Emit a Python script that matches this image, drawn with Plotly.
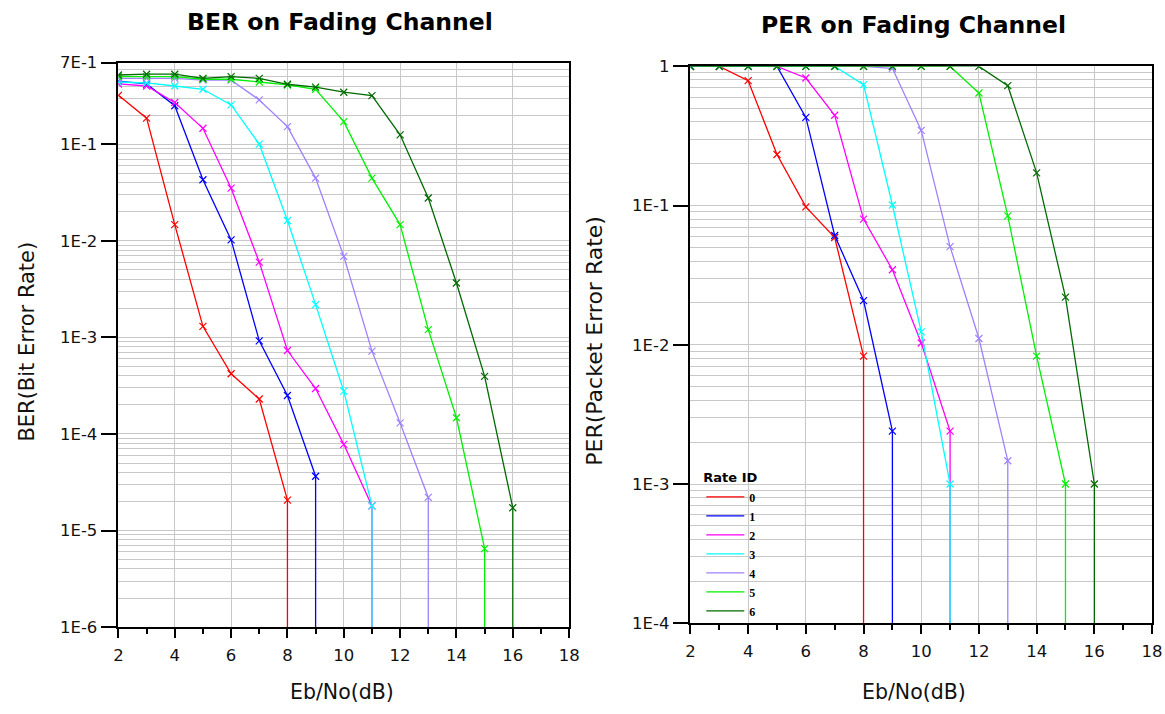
import plotly.graph_objects as go

# Eb/No sweep (dB) and per-rate error curves
rate_ids = ["0", "1", "2", "3", "4", "5", "6"]
colors = ["#ff0000", "#0000ff", "#ff00ff", "#00ffff", "#a080ff", "#00f000", "#006a00"]

ebno = list(range(2, 17))

ber_values = [
    [0.32, 0.186, 0.0147, 1.3e-3, 4.2e-4, 2.3e-4, 2.06e-5],
    [0.45, 0.42, 0.25, 0.0428, 0.0102, 9.2e-4, 2.5e-4, 3.65e-5],
    [0.42, 0.40, 0.27, 0.146, 0.035, 6.0e-3, 7.3e-4, 2.95e-4, 7.8e-5, 1.8e-5],
    [0.44, 0.43, 0.40, 0.37, 0.255, 0.10, 0.0162, 2.18e-3, 2.77e-4, 1.8e-5],
    [0.48, 0.48, 0.48, 0.46, 0.46, 0.287, 0.152, 0.0445, 6.9e-3, 7.2e-4, 1.3e-4, 2.2e-5],
    [0.50, 0.50, 0.50, 0.47, 0.47, 0.44, 0.41, 0.37, 0.171, 0.0445, 0.0147, 1.2e-3, 1.47e-4, 6.5e-6],
    [0.52, 0.53, 0.53, 0.48, 0.50, 0.48, 0.417, 0.39, 0.345, 0.318, 0.125, 0.0277, 3.65e-3, 3.95e-4, 1.72e-5],
]

per_values = [
    [1, 1, 0.79, 0.233, 0.098, 0.059, 8.3e-3],
    [1, 1, 1, 1, 0.43, 0.061, 0.0208, 2.4e-3],
    [1, 1, 1, 1, 0.826, 0.446, 0.08, 0.0346, 0.0103, 2.4e-3],
    [1, 1, 1, 1, 1, 1, 0.74, 0.101, 0.0124, 1e-3],
    [1, 1, 1, 1, 1, 1, 1, 0.97, 0.347, 0.0507, 0.0111, 1.47e-3],
    [1, 1, 1, 1, 1, 1, 1, 1, 1, 1, 0.644, 0.0845, 8.3e-3, 1e-3],
    [1, 1, 1, 1, 1, 1, 1, 1, 1, 1, 1, 0.727, 0.172, 0.022, 1e-3],
]

ber_ticks = [0.7, 1e-1, 1e-2, 1e-3, 1e-4, 1e-5, 1e-6]
ber_ticktext = ["7E-1", "1E-1", "1E-2", "1E-3", "1E-4", "1E-5", "1E-6"]
per_ticks = [1, 1e-1, 1e-2, 1e-3, 1e-4]
per_ticktext = ["1", "1E-1", "1E-2", "1E-3", "1E-4"]
x_ticks = list(range(2, 19, 2))

BER_FLOOR = 1e-6
PER_FLOOR = 1e-4

W, H = 1165, 714
SANS = "DejaVu Sans, Verdana, sans-serif"


def minor_grid(lo_exp, hi_exp):
    vals = []
    for e in range(lo_exp, hi_exp + 1):
        for k in range(2, 10):
            vals.append(k * 10.0 ** e)
    return vals


fig = go.Figure()


def add_curves(values, floor, xa, ya, legend):
    for rid, col, vals in zip(rate_ids, colors, values):
        xs = ebno[:len(vals)]
        # curve plus a drop to the axis floor where no errors were counted
        fig.add_trace(go.Scatter(
            x=xs + [xs[-1]], y=vals + [floor], mode="lines",
            line=dict(color=col, width=1.3), name=rid, legendgroup=rid,
            showlegend=legend, xaxis=xa, yaxis=ya, hoverinfo="skip",
        ))
        fig.add_trace(go.Scatter(
            x=xs, y=vals, mode="markers", legendgroup=rid, showlegend=False,
            marker=dict(symbol="x-thin", size=7, line=dict(color=col, width=1.2)),
            xaxis=xa, yaxis=ya,
        ))


add_curves(ber_values, BER_FLOOR, "x", "y", False)
add_curves(per_values, PER_FLOOR, "x2", "y2", True)

grid_col = "#c8c8c8"
tick_font = dict(family=SANS, size=16.5, color="#111111")

xcommon = dict(
    range=[2, 18], tickvals=x_ticks, ticks="outside", ticklen=9, tickwidth=1.5,
    tickcolor="black", showline=True, linecolor="black", linewidth=1.5, mirror=True,
    showgrid=True, gridcolor=grid_col, gridwidth=1, zeroline=False,
    tickfont=tick_font, ticklabelstandoff=3,
    minor=dict(dtick=1, tick0=2, ticks="outside", ticklen=5, tickwidth=1.5,
               tickcolor="black", showgrid=False),
)

ycommon = dict(
    type="log", ticks="outside", ticklen=16, tickwidth=1.5, tickcolor="black",
    showline=True, linecolor="black", linewidth=1.5, mirror=True,
    showgrid=True, gridcolor=grid_col, gridwidth=1, zeroline=False,
    tickfont=tick_font,
)

fig.update_layout(
    width=W, height=H,
    margin=dict(l=0, r=0, t=0, b=0),
    paper_bgcolor="white", plot_bgcolor="white",
    xaxis=dict(domain=[115 / W, 572 / W], anchor="y", **xcommon),
    yaxis=dict(domain=[1 - 635 / H, 1 - 55 / H], anchor="x",
               range=[-6, 0.8450980400142568 - 1],
               tickvals=ber_ticks, ticktext=ber_ticktext,
               minor=dict(tickvals=minor_grid(-6, -1), showgrid=True,
                          gridcolor=grid_col, ticks=""),
               **ycommon),
    xaxis2=dict(domain=[695 / W, 1163 / W], anchor="y2", **xcommon),
    yaxis2=dict(domain=[1 - 631 / H, 1 - 59 / H], anchor="x2",
                range=[-4, 0],
                tickvals=per_ticks, ticktext=per_ticktext,
                minor=dict(tickvals=minor_grid(-4, -1), showgrid=True,
                           gridcolor=grid_col, ticks=""),
                **ycommon),
    showlegend=True,
    legend=dict(
        x=706 / W, y=1 - 469 / H, xanchor="left", yanchor="top",
        bgcolor="rgba(0,0,0,0)", borderwidth=0,
        title=dict(text="<b>Rate ID</b>", font=dict(family=SANS, size=13, color="black")),
        font=dict(family="Liberation Serif, Times New Roman, serif", size=12,
                  color="black", weight="bold"),
        tracegroupgap=0, itemwidth=38,
    ),
)

ann = [
    dict(text="<b>BER on Fading Channel</b>", x=340 / W, y=1 - 13 / H,
         font=dict(family=SANS, size=23.5, color="black")),
    dict(text="<b>PER on Fading Channel</b>", x=921 / W, y=1 - 16 / H,
         font=dict(family=SANS, size=23.5, color="black")),
    dict(text="BER(Bit Error Rate)", x=22 / W, y=1 - 342 / H, textangle=-90,
         font=dict(family=SANS, size=21, color="#111111")),
    dict(text="PER(Packet Error Rate)", x=598 / W, y=1 - 341 / H, textangle=-90,
         font=dict(family=SANS, size=22, color="#111111")),
    dict(text="Eb/No(dB)", x=342 / W, y=1 - 702 / H,
         font=dict(family=SANS, size=20.5, color="#111111")),
    dict(text="Eb/No(dB)", x=922 / W, y=1 - 702 / H,
         font=dict(family=SANS, size=20.5, color="#111111")),
]
for a in ann:
    fig.add_annotation(xref="paper", yref="paper", showarrow=False,
                       xanchor="center", yanchor="middle", **a)

fig.write_html("out.html")
